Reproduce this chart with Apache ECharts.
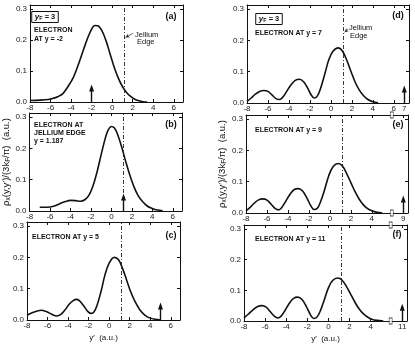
<!DOCTYPE html>
<html><head><meta charset="utf-8">
<script src="https://cdn.jsdelivr.net/npm/echarts@6/dist/echarts.min.js"></script>
<style>html,body{margin:0;padding:0;background:#fff}#c{width:415px;height:344px}</style>
</head><body><div id="c"></div>
<script>
// ---- data ----
const curveA = [[-8,0.005],[-7,0.006],[-6.2,0.008],[-5.8,0.011],[-5.3,0.017],[-4.8,0.027],[-4.3,0.05],[-3.8,0.078],[-3.3,0.12],[-2.8,0.168],[-2.4,0.205],[-2,0.235],[-1.7,0.247],[-1.4,0.246],[-1,0.23],[-0.6,0.198],[-0.2,0.155],[0.2,0.112],[0.6,0.077],[1,0.05],[1.4,0.031],[1.8,0.018],[2.2,0.009],[2.6,0.004],[3,0.001],[3.4,0]];
const curveB = [[-7,0.012],[-6.5,0.012],[-6,0.013],[-5.5,0.017],[-5,0.024],[-4.5,0.03],[-4,0.034],[-3.5,0.033],[-3,0.031],[-2.6,0.036],[-2.2,0.05],[-1.8,0.08],[-1.4,0.125],[-1,0.18],[-0.6,0.232],[-0.3,0.26],[0,0.27],[0.3,0.265],[0.6,0.245],[1,0.205],[1.4,0.158],[1.8,0.115],[2.2,0.078],[2.6,0.05],[3,0.032],[3.5,0.016],[4,0.008],[4.5,0.003],[5,0.001]];
const curveC = [[-8,0.015],[-7.5,0.023],[-7,0.029],[-6.6,0.031],[-6.2,0.028],[-5.8,0.022],[-5.4,0.015],[-5.1,0.013],[-4.7,0.018],[-4.3,0.032],[-3.9,0.05],[-3.5,0.062],[-3.2,0.066],[-2.9,0.062],[-2.5,0.046],[-2.1,0.028],[-1.8,0.021],[-1.5,0.025],[-1.2,0.045],[-0.8,0.09],[-0.4,0.145],[0,0.182],[0.5,0.2],[0.9,0.193],[1.3,0.165],[1.7,0.128],[2.1,0.09],[2.5,0.06],[3,0.032],[3.5,0.015],[4,0.006],[4.5,0.002],[5,0]];
const curveD = [[-8,0.005],[-7.6,0.016],[-7.2,0.028],[-6.8,0.037],[-6.4,0.04],[-6,0.037],[-5.6,0.025],[-5.2,0.013],[-4.9,0.011],[-4.6,0.018],[-4.2,0.038],[-3.8,0.058],[-3.4,0.072],[-3,0.076],[-2.6,0.068],[-2.2,0.047],[-1.9,0.027],[-1.6,0.016],[-1.3,0.022],[-1,0.045],[-0.6,0.09],[-0.2,0.138],[0.2,0.165],[0.7,0.176],[1.1,0.166],[1.5,0.138],[1.9,0.102],[2.3,0.068],[2.7,0.042],[3.1,0.024],[3.5,0.012],[4,0.004],[4.5,0.001]];
const curveE = [[-8,0.007],[-7.6,0.018],[-7.2,0.032],[-6.8,0.042],[-6.4,0.045],[-6,0.041],[-5.6,0.028],[-5.2,0.014],[-4.9,0.01],[-4.6,0.017],[-4.2,0.038],[-3.8,0.06],[-3.4,0.075],[-3,0.078],[-2.6,0.07],[-2.2,0.048],[-1.8,0.022],[-1.5,0.011],[-1.2,0.015],[-0.9,0.035],[-0.5,0.075],[-0.1,0.12],[0.3,0.148],[0.8,0.158],[1.2,0.15],[1.6,0.126],[2,0.097],[2.4,0.068],[2.8,0.044],[3.2,0.026],[3.6,0.014],[4,0.007],[4.5,0.002],[5,0]];
const curveF = [[-8,0.01],[-7.6,0.022],[-7.2,0.035],[-6.7,0.047],[-6.3,0.05],[-5.9,0.045],[-5.5,0.03],[-5.1,0.015],[-4.8,0.01],[-4.5,0.015],[-4.1,0.035],[-3.7,0.058],[-3.3,0.074],[-2.9,0.078],[-2.5,0.07],[-2.1,0.048],[-1.7,0.02],[-1.4,0.008],[-1.1,0.012],[-0.8,0.03],[-0.4,0.068],[0,0.108],[0.4,0.132],[0.9,0.14],[1.3,0.133],[1.7,0.113],[2.1,0.088],[2.5,0.062],[2.9,0.04],[3.3,0.024],[3.7,0.013],[4.1,0.006],[4.6,0.002],[5.2,0]];

const jelliumEdge = 1.187;
const electronPos = [-2, 1.187, 5, 7, 7, 7];      // display position of the arrow
const arrowHeight = 0.045;
const lastTickText = {'d':'7','e':'9','f':'11'};
const xLabelsLeft = [-8,-6,-4,-2,0,2,4,6];
const xLabelsD = [-8,-6,-4,-2,0,2,4,6,7];
const xLabelsEF = [-8,-6,-4,-2,0,2,4,7];
const yTicks = [0,0.1,0.2,0.3];
const panelTags = ['(a)','(b)','(c)','(d)','(e)','(f)'];

// ---- layout ----
const FONT = '"Liberation Sans", Arial, Helvetica, sans-serif';
const INK = '#111';
const layout = [
  {left:30, top:5,   width:153, height:97, xmax:6.9},
  {left:28, top:113, width:154, height:98, xmax:6.9},
  {left:27, top:222, width:153, height:98, xmax:6.9},
  {left:247, top:5,   width:162, height:98, xmax:7.45},
  {left:246, top:115, width:162, height:98, xmax:7.45},
  {left:244, top:225, width:163, height:98, xmax:7.45}
];
const curves = [curveA, curveB, curveC, curveD, curveE, curveF];
const keys = ['a','b','c','d','e','f'];
const xLabelSets = [xLabelsLeft, xLabelsLeft, xLabelsLeft, xLabelsD, xLabelsEF, xLabelsEF];
const YMAX = 0.313;

const grids = [], xAxes = [], yAxes = [], series = [];
const yName = '{n|ρ}{s|x}{n|(y,y′)/(3k}{s|F}{n|/π)  (a.u.)}';
const nameRich = {n:{fontSize:9.5, fontFamily:FONT, color:INK}, s:{fontSize:6.5, fontFamily:FONT, color:INK, verticalAlign:'bottom', padding:[4,0,0,0]}};

layout.forEach((L, i) => {
  grids.push({left:L.left, top:L.top, width:L.width, height:L.height, containLabel:false});
  const k = keys[i];
  const xl = xLabelSets[i];
  const lineAx = {show:true, onZero:false, lineStyle:{color:INK, width:1}};
  xAxes.push({
    type:'value', gridIndex:i, min:-8, max:L.xmax, position:'bottom',
    axisLine:lineAx,
    axisTick:{show:true, inside:true, length:3, customValues:xl, lineStyle:{color:INK, width:1}},
    axisLabel:{show:true, customValues:xl, fontSize:8, margin:2, color:'#222', fontFamily:FONT,
      formatter:v => (v === 7 && lastTickText[k]) ? lastTickText[k] : String(v)},
    splitLine:{show:false},
    name:(i===2||i===5) ? 'y′  (a.u.)' : '', nameLocation:'middle', nameGap:14,
    nameTextStyle:{fontSize:8, fontFamily:FONT, color:INK}
  });
  xAxes.push({
    type:'value', gridIndex:i, min:-8, max:L.xmax, position:'top',
    axisLine:lineAx,
    axisTick:{show:true, inside:true, length:3, customValues:xl, lineStyle:{color:INK, width:1}},
    axisLabel:{show:false}, splitLine:{show:false}
  });
  yAxes.push({
    type:'value', gridIndex:i, min:0, max:YMAX, position:'left',
    axisLine:lineAx,
    axisTick:{show:true, inside:true, length:3, customValues:yTicks, lineStyle:{color:INK, width:1}},
    axisLabel:{show:true, customValues:yTicks, fontSize:8, margin:3, color:'#222', fontFamily:FONT, formatter:v => v.toFixed(1)},
    splitLine:{show:false},
    name:(i===1||i===4) ? yName : '', nameLocation:'middle', nameGap:17, nameRotate:90,
    nameTextStyle:{rich:nameRich, fontSize:9.5, fontFamily:FONT, color:INK}
  });
  yAxes.push({
    type:'value', gridIndex:i, min:0, max:YMAX, position:'right',
    axisLine:lineAx,
    axisTick:{show:true, inside:true, length:3, customValues:yTicks, lineStyle:{color:INK, width:1}},
    axisLabel:{show:false}, splitLine:{show:false}
  });

  const mlData = [
    {xAxis:jelliumEdge, lineStyle:{type:[4,2,1,2], width:0.9, color:'#222'}},
    [{coord:[electronPos[i],0], symbol:'none'},
     {coord:[electronPos[i],arrowHeight], symbol:'triangle', symbolSize:[5,7]}]
  ];
  if (i === 0) {
    mlData.push([{coord:[2.05,0.222], symbol:'none'},{coord:[1.3,0.208], symbol:'arrow', symbolSize:[3,4], lineStyle:{width:0.7, type:'solid', color:'#333'}}]);
  }
  if (i === 3) {
    mlData.push([{coord:[1.65,0.236], symbol:'none'},{coord:[1.3,0.226], symbol:'arrow', symbolSize:[3,4], lineStyle:{width:0.7, type:'solid', color:'#333'}}]);
  }
  series.push({
    type:'line', xAxisIndex:2*i, yAxisIndex:2*i, data:curves[i],
    smooth:0.35, showSymbol:false, symbol:'none',
    lineStyle:{color:INK, width:1.6}, silent:true, z:3,
    markLine:{silent:true, symbol:['none','none'], label:{show:false},
      lineStyle:{color:INK, width:1.4, type:'solid'}, emphasis:{disabled:true},
      animation:false, data:mlData}
  });
  if (i === 4 || i === 5) {
    series.push({
      type:'scatter', xAxisIndex:2*i, yAxisIndex:2*i, data:[[5.9,0],[5.9,YMAX]],
      symbol:'rect', symbolSize:[3,6], clip:false, silent:true, z:5,
      itemStyle:{color:'#fff', borderColor:INK, borderWidth:0.8}
    });
  }
});

// ---- annotation texts ----
function txt(x, y, text, opt) {
  opt = opt || {};
  return {type:'text', x:x, y:y, silent:true, z:10,
    style:Object.assign({text:text, fill:INK, font:(opt.weight||'bold') + ' ' + (opt.size||7) + 'px ' + FONT,
      align:opt.align||'left', verticalAlign:'middle'}, opt.extra||{})};
}
function boxYF(x, y) {
  return {type:'text', x:x, y:y, silent:true, z:10,
    style:{text:'{i|y}{s|F}{n| = 3}', align:'center', verticalAlign:'middle',
      borderColor:INK, borderWidth:1, padding:[1,3,1,3],
      rich:{i:{font:'italic bold 8px ' + FONT, fill:INK},
            s:{font:'bold 5.5px ' + FONT, fill:INK, verticalAlign:'bottom', padding:[3,0,0,0]},
            n:{font:'bold 7.5px ' + FONT, fill:INK}}}};
}
const graphics = [
  boxYF(45, 17), boxYF(269, 19),
  txt(34, 30, 'ELECTRON'), txt(34, 39, 'AT y = -2'),
  txt(135, 35, 'Jellium', {weight:'normal', size:7.5}), txt(137, 42, 'Edge', {weight:'normal', size:7.5}),
  txt(34, 125, 'ELECTRON AT'), txt(34, 133, 'JELLIUM EDGE'), txt(34, 141, 'y = 1.187'),
  txt(32, 237, 'ELECTRON AT y = 5'),
  txt(255, 33, 'ELECTRON AT y = 7'),
  txt(349, 28, 'Jellium', {weight:'normal', size:7.5}), txt(350, 36, 'Edge', {weight:'normal', size:7.5}),
  txt(255, 130, 'ELECTRON AT y = 9'),
  txt(255, 239, 'ELECTRON AT y = 11'),
  txt(171, 17, panelTags[0], {size:9, align:'center'}),
  txt(171, 125, panelTags[1], {size:9, align:'center'}),
  txt(171, 236, panelTags[2], {size:9, align:'center'}),
  txt(398, 16, panelTags[3], {size:9, align:'center'}),
  txt(398, 125, panelTags[4], {size:9, align:'center'}),
  txt(397, 235, panelTags[5], {size:9, align:'center'})
];

const chart = echarts.init(document.getElementById('c'), null, {renderer:'canvas'});
chart.setOption({
  animation:false,
  backgroundColor:'#fff',
  grid:grids, xAxis:xAxes, yAxis:yAxes, series:series, graphic:graphics
});
</script>
</body></html>
